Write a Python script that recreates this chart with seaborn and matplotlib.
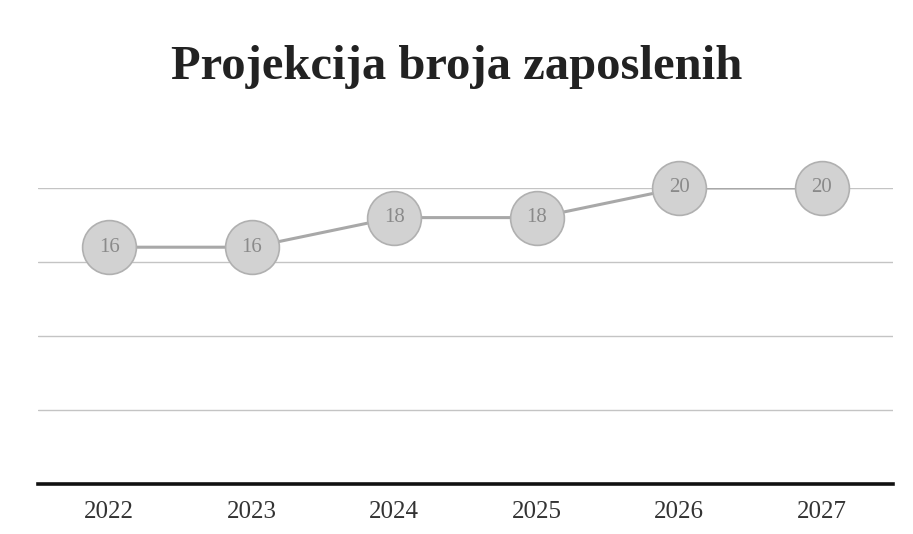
import pandas as pd
import matplotlib.pyplot as plt
import seaborn as sns

# data
years = ['2022', '2023', '2024', '2025', '2026', '2027']
employees = [16, 16, 18, 18, 20, 20]

df = pd.DataFrame({'year': years, 'employees': employees})

sns.set_style('white')
plt.rcParams['font.family'] = ['Liberation Serif', 'DejaVu Serif']

fig = plt.figure(figsize=(9.13, 5.34), dpi=100)
ax = fig.add_axes([38 / 913, 50 / 534, 855 / 913, 296 / 534])

# gridlines
for g in [5, 10, 15, 20]:
    ax.axhline(g, color='#c4c4c4', lw=1, zorder=0)

ax.plot(range(len(years)), employees, color='#a8a8a8', lw=2.2, zorder=2)
sns.scatterplot(data=df, x='year', y='employees', ax=ax, s=1500,
                color='#d2d2d2', edgecolor='#b0b0b0', linewidth=1.2,
                zorder=3, clip_on=False, legend=False)

for i, v in enumerate(employees):
    ax.text(i, v, str(v), ha='center', va='center', fontsize=15,
            color='#8a8a8a', zorder=4)

ax.set_xlim(-0.5, len(years) - 0.5)
ax.set_ylim(0, 20)
ax.set_yticks([])
ax.set_xlabel('')
ax.set_ylabel('')
sns.despine(ax=ax, left=True, top=True, right=True)
ax.spines['bottom'].set_color('#111111')
ax.spines['bottom'].set_linewidth(2.6)
ax.tick_params(axis='x', length=0, pad=12, labelsize=18, labelcolor='#333333')

fig.text(0.5, 0.875, 'Projekcija broja zaposlenih', ha='center', va='center',
         fontsize=35, fontweight='bold', color='#222222')

fig.savefig('out.png', dpi=100)
